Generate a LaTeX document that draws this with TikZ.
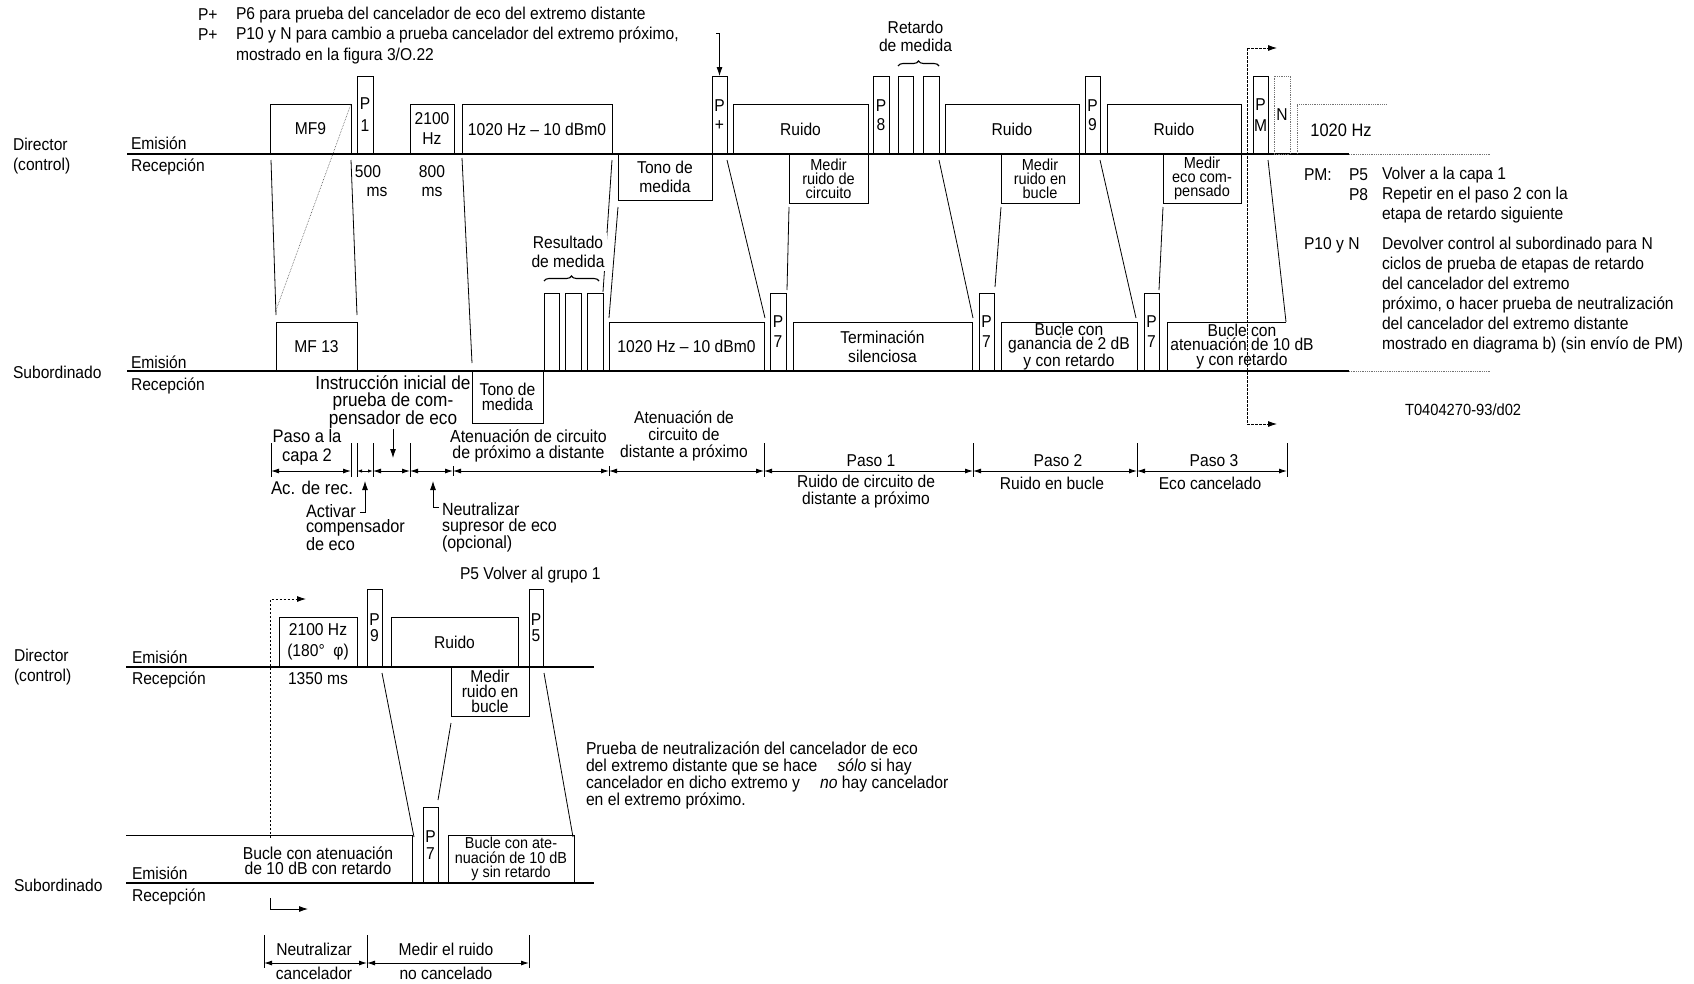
\documentclass[tikz,border=0pt]{standalone}
\usepackage{fontspec}
\setmainfont{Liberation Sans}[FakeStretch=0.91,Scale=1.1]
\usetikzlibrary{arrows.meta,calc,decorations.pathreplacing}
\newcommand{\myfs}[2]{\fontsize{#1}{#2}\selectfont}
\newcommand{\Bx}[7]{\node[bx,#6,minimum width={#4-#2},minimum height={#5-#3},anchor=north west] (#1) at (#2,#3) {#7};}
\begin{document}
\begin{tikzpicture}[x=1pt,y=-1pt,
  bx/.style={draw, line width=0.9pt, inner sep=0pt, outer sep=0pt, align=center, font=\myfs{15.6}{18}},
  tx/.style={inner sep=0pt, outer sep=0pt, font=\myfs{15.6}{18}},
  main/.style={line width=1.3pt},
  bxl/.style={line width=0.9pt},
  dotl/.style={line width=0.8pt, densely dotted, black!55},
  dotc/.style={line width=0.6pt, densely dotted, black!70},
  conn/.style={line width=0.8pt},
  dsh/.style={line width=0.8pt, dash pattern=on 2.5pt off 1.5pt},
  arr/.style={-{Latex[length=9pt,width=6pt]}},
  dim/.style={line width=0.9pt, {Latex[length=8pt,width=5pt]}-{Latex[length=8pt,width=5pt]}},
  dims/.style={line width=0.9pt, {Latex[length=5pt,width=3.5pt]}-{Latex[length=5pt,width=3.5pt]}},
  tick/.style={line width=0.9pt},
  brc/.style={line width=1.1pt, decorate, decoration={brace, amplitude=5pt}}
]
\path[use as bounding box] (0,0) rectangle (1694,983);

% ---------- top notes ----------
\node[tx,anchor=west] (pp1) at (198,15) {P+};
\node[tx,anchor=west] (pp1t) at (236,15) {P6 para prueba del cancelador de eco del extremo distante};
\node[tx,anchor=west] (pp2) at (198,35) {P+};
\node[tx,anchor=west] (pp2t) at (236,35) {P10 y N para cambio a prueba cancelador del extremo próximo,};
\node[tx,anchor=west] (pp3t) at (236,56) {mostrado en la figura 3/O.22};

% ---------- left labels (top) ----------
\node[tx,anchor=west,align=left,font=\myfs{15.6}{20}] (dir1) at (13,156) {Director\\(control)};
\node[tx,anchor=west] (em1) at (131,143) {Emisión};
\node[tx,anchor=west] (re1) at (131,167) {Recepción};
\node[tx,anchor=west] (sub1) at (13,372) {Subordinado};
\node[tx,anchor=west] (em2) at (131,362) {Emisión};
\node[tx,anchor=west] (re2) at (131,386) {Recepción};

% ---------- main lines ----------
\coordinate (dl0) at (127,154); \coordinate (dl1) at (1349,154); \coordinate (dl2) at (1490,154);
\coordinate (sl0) at (127,371); \coordinate (sl1) at (1349,371); \coordinate (sl2) at (1490,371);
\draw[main] (dl0) -- (dl1); \draw[dotl] (dl1) -- (dl2);
\draw[main] (sl0) -- (sl1); \draw[dotl] (sl1) -- (sl2);

% ---------- director boxes ----------
\Bx{mf9}{270}{104}{351}{154}{}{MF9}
\Bx{p1}{357}{76}{373}{154}{font=\myfs{15.6}{22}}{P\\1}
\Bx{hz2100}{410}{104}{454}{154}{font=\myfs{15.6}{20}}{2100\\Hz}
\Bx{d1020}{462}{104}{612}{154}{}{1020 Hz – 10 dBm0}
\Bx{tonod}{618}{154}{712}{200}{font=\myfs{15.6}{19}}{Tono de\\medida}
\Bx{pplus}{712}{76}{727}{154}{font=\myfs{15.6}{19}}{P\\+}
\Bx{ruido1}{733}{104}{868}{154}{}{Ruido}
\Bx{medir1}{789}{154}{868}{203}{font=\myfs{14.5}{14}}{Medir\\ruido de\\circuito}
\Bx{p8}{873}{76}{889}{154}{font=\myfs{15.6}{19}}{P\\8}
\Bx{q1}{898}{76}{913}{154}{}{}
\Bx{q2}{923}{76}{939}{154}{}{}
\Bx{ruido2}{945}{104}{1079}{154}{}{Ruido}
\Bx{medir2}{1001}{154}{1079}{203}{font=\myfs{14.5}{14}}{Medir\\ruido en\\bucle}
\Bx{p9}{1085}{76}{1100}{154}{font=\myfs{15.6}{19}}{P\\9}
\Bx{ruido3}{1107}{104}{1241}{154}{}{Ruido}
\Bx{medir3}{1163}{154}{1241}{203}{font=\myfs{14.5}{14}}{Medir\\eco com-\\pensado}
\Bx{pm}{1253}{76}{1268}{154}{font=\myfs{15.6}{21}}{P\\M}
\Bx{nbox}{1274}{76}{1290}{154}{dotl,text=black}{N}
\coordinate (f0) at (1297,154); \coordinate (f1) at (1297,104); \coordinate (f2) at (1386,104);
\draw[dotl] (f0) -- (f1) -- (f2);
\node[tx,font=\myfs{16.4}{18}] (hz1020) at (1341,130) {1020 Hz};

% ---------- subordinate boxes ----------
\Bx{mf13}{276}{322}{357}{371}{}{MF 13}
\Bx{tonos}{472}{371}{543}{423}{font=\myfs{15.6}{15}}{Tono de\\medida}
\Bx{r1}{544}{293}{559}{371}{}{}
\Bx{r2}{565}{293}{581}{371}{}{}
\Bx{r3}{587}{293}{603}{371}{}{}
\Bx{s1020}{609}{322}{764}{371}{}{1020 Hz – 10 dBm0}
\Bx{p7a}{770}{293}{786}{371}{font=\myfs{15.6}{20}}{P\\7}
\Bx{term}{793}{322}{972}{371}{font=\myfs{15.6}{19}}{Terminación\\silenciosa}
\Bx{p7b}{979}{293}{994}{371}{font=\myfs{15.6}{20}}{P\\7}
\Bx{bucg}{1001}{322}{1137}{371}{font=\myfs{15.6}{14.5}}{Bucle con\\ganancia de 2 dB\\y con retardo}
\Bx{p7c}{1144}{293}{1159}{371}{font=\myfs{15.6}{20}}{P\\7}
\coordinate (bat0) at (1167,371); \coordinate (bat1) at (1167,322); \coordinate (bat2) at (1286,322);
\draw[bxl] (bat0) -- (bat1) -- (bat2);

% ---------- braces ----------
\draw[brc] ($(q1.north west)+(0,-10)$) -- ($(q2.north east)+(0,-10)$);
\draw[brc] ($(r1.north west)+(0,-12)$) -- ($(r3.north east)+(-4,-12)$);

% ---------- connectors (top) ----------
\draw[conn] ($(mf9.south west)+(1,6)$) -- ($(mf13.north west)+(0,-7)$);
\draw[conn] ($(mf9.south east)+(0,6)$) -- ($(mf13.north east)+(0,-7)$);
\draw[dotc] (mf9.north east) -- ($(mf13.north west)+(-1,-9)$);
\draw[conn] ($(d1020.south west)+(0,4)$) -- ($(tonos.north west)+(0,-8)$);
\draw[conn] ($(d1020.south east)+(0,6)$) -- ($(r3.north east)+(0,-1)$);
\draw[conn] ($(tonod.south west)+(0,7)$) -- ($(s1020.north west)+(0,-4)$);
\draw[conn] ($(pplus.south east)+(0,6)$) -- ($(s1020.north east)+(1,-4)$);
\draw[conn] ($(medir1.south west)+(0,4)$) -- ($(p7a.north east)+(1,-3)$);
\draw[conn] ($(q2.south east)+(0,6)$) -- ($(term.north east)+(1,-4)$);
\draw[conn] ($(medir2.south west)+(0,4)$) -- ($(p7b.north east)+(1,-6)$);
\draw[conn] ($(p9.south east)+(0,6)$) -- ($(bucg.north east)+(-1,-4)$);
\draw[conn] ($(medir3.south west)+(0,4)$) -- ($(p7c.north east)+(0,-3)$);
\draw[conn] ($(pm.south east)+(0,6)$) -- (bat2);

% P+ arrow from above
\coordinate (pa0) at (716,33); \coordinate (pa1) at (719.5,33);
\draw[conn,arr] (pa0) -- (pa1) -- (pplus.north);

% dashed jump marker (top right)
\coordinate (va) at (1247,48); \coordinate (vb) at (1247,424);
\coordinate (vat) at (1277,48); \coordinate (vbt) at (1277,424);
\draw[dsh] (va) -- (vb);
\draw[dsh,arr] (va) -- (vat);
\draw[dsh,arr] (vb) -- (vbt);

% ---------- texts (top) ----------
\node[tx,align=center,font=\myfs{15.6}{18}] (retm) at (915.5,36) {Retardo\\de medida};
\node[tx,align=center,font=\myfs{15.6}{19},fill=white,inner sep=3pt] (resm) at (568,252) {Resultado\\de medida};
\node[tx] (t500) at (368,172) {500};
\node[tx] (t500ms) at (377,192) {ms};
\node[tx,align=center,font=\myfs{15.6}{19}] (t800) at (432,181) {800\\ms};
\node[tx,align=center,font=\myfs{15.6}{14.5}] (batt) at (1242,346.5) {Bucle con\\atenuación de 10 dB\\y con retardo};

% right notes
\node[tx,anchor=west] (npm) at (1304,175) {PM:};
\node[tx,anchor=west] (np5) at (1349,175) {P5};
\node[tx,anchor=west] (np5t) at (1382,175) {Volver a la capa 1};
\node[tx,anchor=west] (np8) at (1349,195) {P8};
\node[tx,anchor=west,align=left,font=\myfs{15.6}{20}] (np8t) at (1382,205) {Repetir en el paso 2 con la\\etapa de retardo siguiente};
\node[tx,anchor=west] (np10) at (1304,245) {P10 y N};
\node[tx,anchor=west,align=left,font=\myfs{15.6}{20}] (np10t) at (1382,295) {Devolver control al subordinado para N\\ciclos de prueba de etapas de retardo\\del cancelador del extremo\\próximo, o hacer prueba de neutralización\\del cancelador del extremo distante\\mostrado en diagrama b) (sin envío de PM)};
\node[tx,anchor=west,font=\myfs{14.7}{16}] (tref) at (1405,410) {T0404270-93/d02};

% ---------- dimension row 1 ----------
\foreach \n/\x in {a/271,b/351,c/357,d/373,e/410,f/453,g/609,h/764,i/973,j/1137,k/1287}{
  \coordinate (t\n) at (\x,471);
}
\foreach \n in {a,b,c,d,e,h,i,j,k}{ \draw[tick] ($(t\n)+(0,-28)$) -- ($(t\n)+(0,6)$); }
\foreach \n in {f,g}{ \draw[tick] ($(t\n)+(0,-5)$) -- ($(t\n)+(0,5)$); }
\draw[dim] (ta) -- (tb);
\draw[dims] (tc) -- (td);
\draw[dim] (td) -- (te);
\draw[dim] (te) -- (tf);
\draw[dim] (tf) -- (tg);
\draw[dim] (tg) -- (th);
\draw[dim] (th) -- (ti);
\draw[dim] (ti) -- (tj);
\draw[dim] (tj) -- (tk);

\node[tx,align=center,font=\myfs{16.5}{19}] (pcapa) at (307,447.5) {Paso a la\\capa 2};
\node[tx,anchor=west,font=\myfs{16.8}{18}] (acrec) at (271,488) {Ac. de rec.};
\node[tx,align=center,font=\myfs{17.2}{17}] (instr) at (393,402) {Instrucción inicial de\\prueba de com-\\pensador de eco};
\coordinate (ia0) at (393,429); \coordinate (ia1) at (393,458);
\draw[conn,arr] (ia0) -- (ia1);
\node[tx,anchor=west,align=left,font=\myfs{16.3}{15.5}] (activ) at (306,527.5) {Activar\\compensador\\de eco};
\coordinate (ha0) at (360,512); \coordinate (ha1) at (365,512); \coordinate (ha2) at (365,481);
\draw[conn,arr] (ha0) -- (ha1) -- (ha2);
\node[tx,anchor=west,align=left,font=\myfs{16}{15.5}] (neut) at (442,527.5) {Neutralizar\\supresor de eco\\(opcional)};
\coordinate (hb0) at (439,507); \coordinate (hb1) at (433,507); \coordinate (hb2) at (433,481);
\draw[conn,arr] (hb0) -- (hb1) -- (hb2);
\node[tx,align=center,font=\myfs{15.9}{16}] (atpd) at (528.5,446) {Atenuación de circuito\\de próximo a distante};
\node[tx,align=center,font=\myfs{15.6}{17}] (atdp) at (684,436) {Atenuación de\\circuito de\\distante a próximo};
\node[tx] (paso1) at (871,461) {Paso 1};
\node[tx,align=center,font=\myfs{15.6}{17}] (paso1t) at (866,491.5) {Ruido de circuito de\\distante a próximo};
\node[tx] (paso2) at (1058,461) {Paso 2};
\node[tx] (paso2t) at (1052,483) {Ruido en bucle};
\node[tx] (paso3) at (1214,461) {Paso 3};
\node[tx] (paso3t) at (1210,483) {Eco cancelado};

% ---------- lower diagram ----------
\node[tx,anchor=west] (p5v) at (460,575) {P5 Volver al grupo 1};
\node[tx,anchor=west,align=left,font=\myfs{15.6}{20}] (dir2) at (14,667) {Director\\(control)};
\node[tx,anchor=west] (em3) at (132,657) {Emisión};
\node[tx,anchor=west] (re3) at (132,680) {Recepción};
\node[tx,anchor=west] (sub2) at (14,885) {Subordinado};
\node[tx,anchor=west] (em4) at (132,873) {Emisión};
\node[tx,anchor=west] (re4) at (132,897) {Recepción};

\coordinate (ll0) at (126,667); \coordinate (ll1) at (594,667);
\coordinate (ls0) at (126,883); \coordinate (ls1) at (594,883);
\draw[main] (ll0) -- (ll1);
\draw[main] (ls0) -- (ls1);

\Bx{l2100}{279}{617}{357}{667}{font=\myfs{15.6}{21}}{2100 Hz\\(180°~~φ)}
\Bx{lp9}{367}{589}{382}{667}{font=\myfs{15.6}{16}}{P\\9}
\Bx{lruido}{391}{617}{518}{667}{}{Ruido}
\Bx{lp5}{529}{589}{543}{667}{font=\myfs{15.6}{16}}{P\\5}
\Bx{lmedir}{451}{667}{529}{716}{font=\myfs{15.6}{15}}{Medir\\ruido en\\bucle}
\Bx{lp7}{423}{807}{438}{883}{font=\myfs{15.6}{17}}{P\\7}
\Bx{lbuc2}{448}{835}{574}{883}{font=\myfs{14.4}{14.5}}{Bucle con ate-\\nuación de 10 dB\\y sin retardo}
\coordinate (lba) at (126,835); \coordinate (lbc) at (412,835); \coordinate (lbd) at (412,883);
\draw[bxl] (lba) -- (lbc) -- (lbd);
\node[tx,align=center,font=\myfs{15.7}{15}] (lbuct) at (318,860.5) {Bucle con atenuación\\de 10 dB con retardo};
\node[tx] (t1350) at (318,679) {1350 ms};

\draw[conn] ($(lp9.south east)+(0,6)$) -- ($(lbc)+(2,2)$);
\draw[conn] ($(lmedir.south west)+(0,7)$) -- ($(lp7.north east)+(0,-7)$);
\draw[conn] ($(lp5.south east)+(1,6)$) -- ($(lbuc2.north east)+(-1,2)$);

\coordinate (lda) at (270.6,838); \coordinate (ldb) at (270.6,599); \coordinate (ldc) at (306,599);
\draw[dsh,arr] (lda) -- (ldb) -- (ldc);
\coordinate (lsa) at (270.6,898); \coordinate (lsb) at (270.6,909); \coordinate (lsc) at (308,909);
\draw[conn,arr] (lsa) -- (lsb) -- (lsc);

\node[tx,anchor=west,align=left,font=\myfs{15.7}{17}] (note) at (586,775) {Prueba de neutralización del cancelador de eco\\del extremo distante que se hace\hspace{20pt}\textit{sólo} si hay\\cancelador en dicho extremo y\hspace{20pt}\textit{no} hay cancelador\\en el extremo próximo.};

% lower dimension row
\coordinate (lt1) at (264,963); \coordinate (lt2) at (367,963); \coordinate (lt3) at (529,963);
\foreach \n in {lt1,lt2,lt3}{ \draw[tick] ($(\n)+(0,-28)$) -- ($(\n)+(0,5)$); }
\draw[dim] (lt1) -- (lt2);
\draw[dim] (lt2) -- (lt3);
\node[tx] (lneu) at (314,949) {Neutralizar};
\node[tx] (lcan) at (314,973) {cancelador};
\node[tx] (lmed) at (446,949) {Medir el ruido};
\node[tx] (lnoc) at (446,973) {no cancelado};
\end{tikzpicture}
\end{document}
